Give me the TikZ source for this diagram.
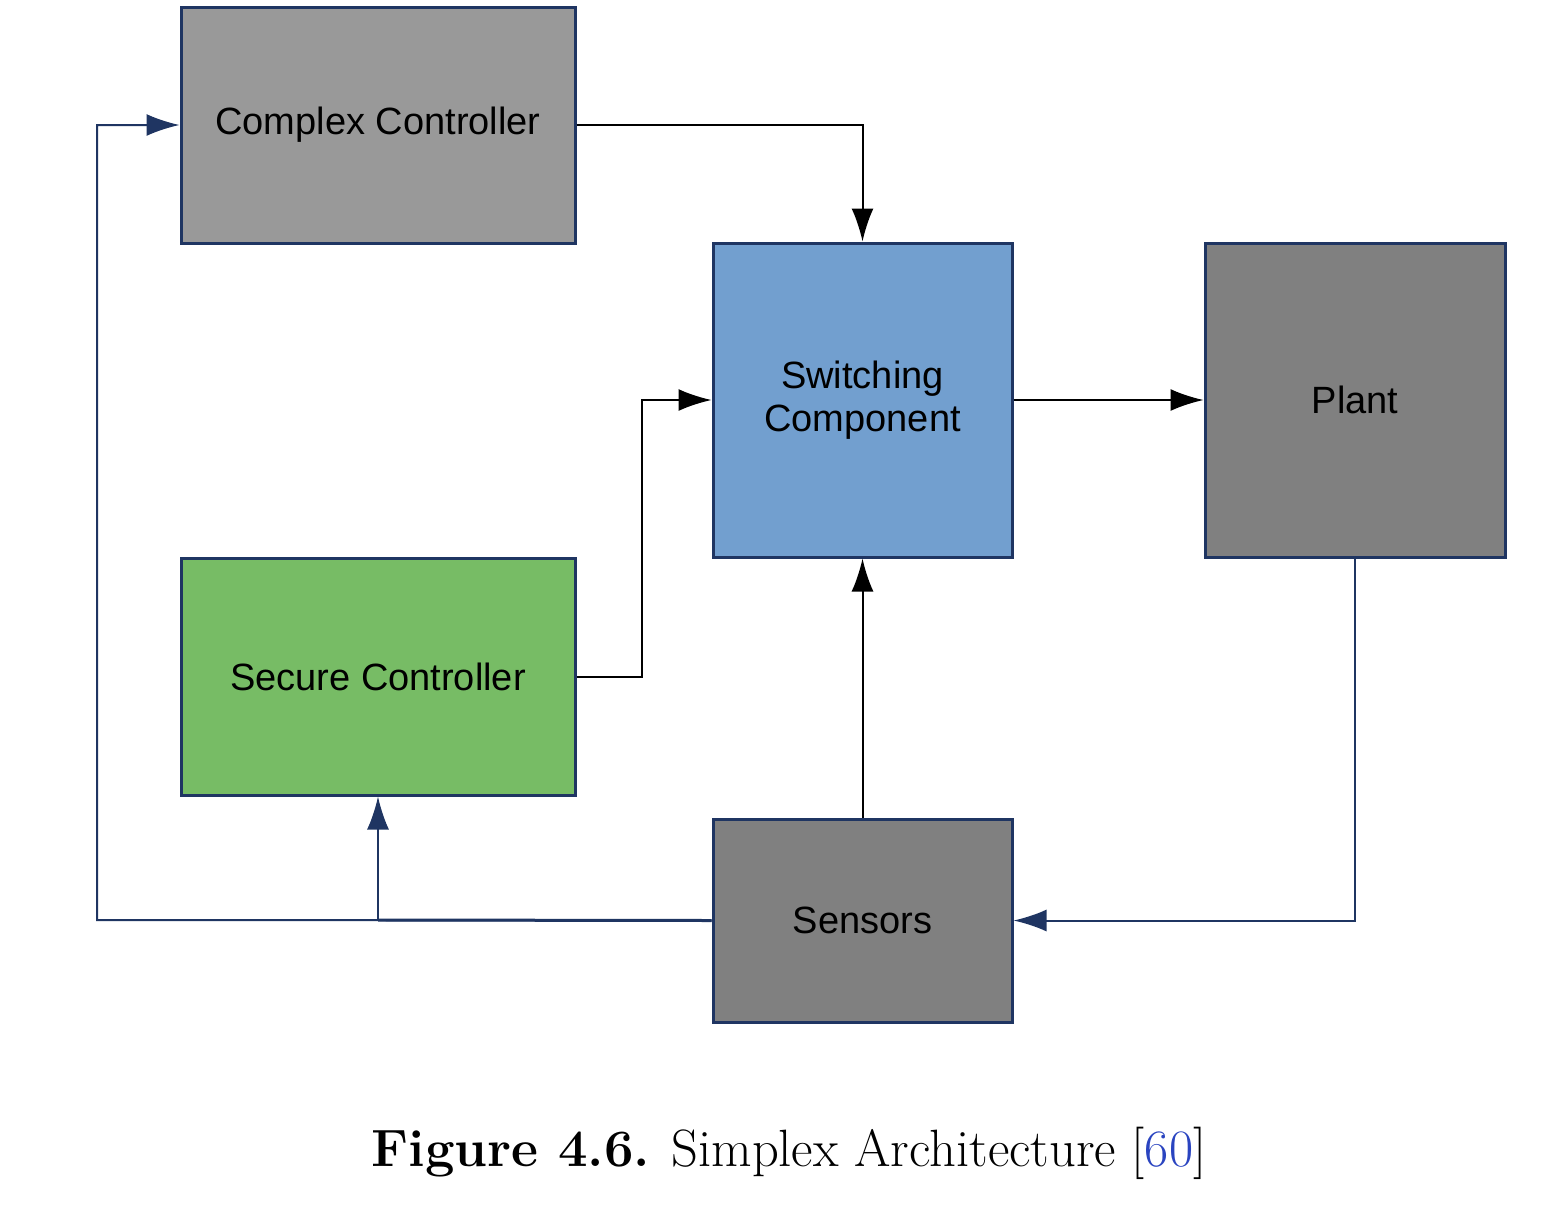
\documentclass[tikz,border=0pt]{standalone}
\usepackage{fontspec}
\setsansfont{Liberation Sans}
\usetikzlibrary{arrows.meta}
\definecolor{navy}{HTML}{1F3562}
\definecolor{cgray}{HTML}{999999}
\definecolor{dgray}{HTML}{808080}
\definecolor{sblue}{HTML}{729FCF}
\definecolor{sgreen}{HTML}{77BC65}
\definecolor{citeblue}{HTML}{2A44C0}
\tikzset{
  blockbox/.style={draw=navy, line width=3pt, inner sep=0pt, font=\sffamily\fontsize{38}{43}\selectfont, align=center},
  blackline/.style={line width=2pt, black, -{Latex[length=33pt,width=22pt]}},
  navyline/.style={line width=2pt, navy, -{Latex[length=33pt,width=22pt]}},
  navyplain/.style={line width=2pt, navy},
}
\begin{document}
\begin{tikzpicture}[x=1pt,y=-1pt]
\useasboundingbox (0,0) rectangle (1544,1205);
\node[blockbox, fill=cgray, minimum width=394pt, minimum height=236pt] (cc) at (378,125) {Complex Controller};
\node[blockbox, fill=sblue, minimum width=299pt, minimum height=314pt] (sw) at (862.5,400) {Switching\\Component};
\node[blockbox, fill=dgray, minimum width=300pt, minimum height=314pt] (pl) at (1355,400) {Plant};
\node[blockbox, fill=sgreen, minimum width=394pt, minimum height=237pt] (sc) at (378,676.5) {Secure Controller};
\node[blockbox, fill=dgray, minimum width=299pt, minimum height=203pt] (se) at (862.5,920.5) {Sensors};
\coordinate (lc) at (97,920);
\coordinate (br) at (378,920);
\coordinate (sj) at (642,400);
% connectors
\draw[blackline] (cc.east) -| (sw.north);
\draw[blackline] (sc.east) -- (sc.east -| sj) -- (sj) -- (sw.west);
\draw[blackline] (sw.east) -- (pl.west);
\draw[blackline] (se.north) -- (sw.south);
\draw[navyline] (pl.south) |- (se.east);
\draw[navyline] (se.west) -- (lc) |- (cc.west);
\draw[navyplain, line width=3pt] (se.west) -- (br);
\draw[navyline] (br) -- (sc.south);
% caption
\node[font=\fontsize{52.5}{60}\selectfont, anchor=base] (cap) at (789,1166) {\textbf{Figure 4.6.} Simplex Architecture [{\color{citeblue}60}]};
\end{tikzpicture}
\end{document}
